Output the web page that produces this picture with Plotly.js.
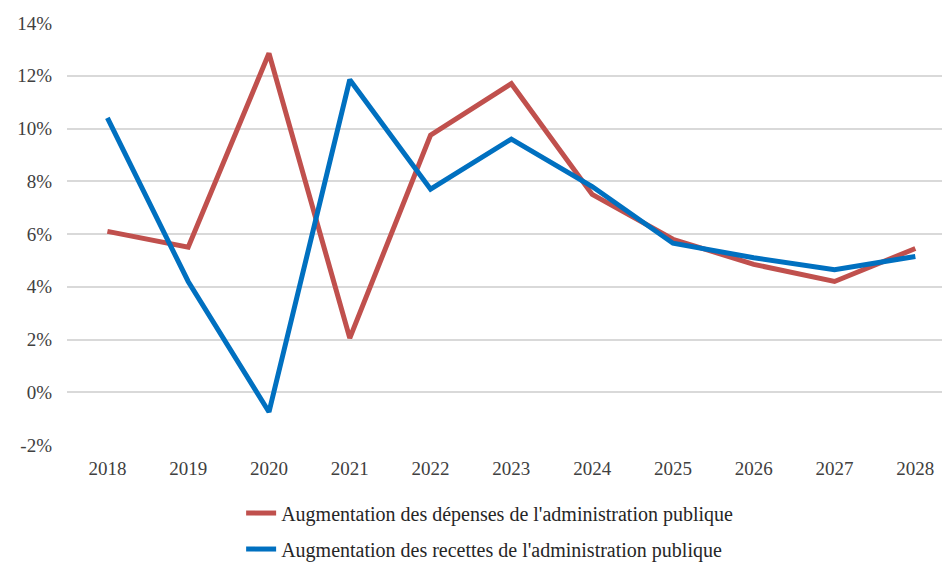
<!DOCTYPE html>
<html>
<head>
<meta charset="utf-8">
<script src="https://cdn.plot.ly/plotly-3.0.1.min.js"></script>
<style>html,body{margin:0;padding:0;background:#fff;}#chart{width:942px;height:564px;}</style>
</head>
<body>
<div id="chart"></div>
<script>
const years = ['2018','2019','2020','2021','2022','2023','2024','2025','2026','2027','2028'];
const depenses = [6.1, 5.5, 12.85, 2.05, 9.75, 11.7, 7.5, 5.8, 4.85, 4.2, 5.45];
const recettes = [10.4, 4.2, -0.75, 11.85, 7.7, 9.6, 7.8, 5.65, 5.1, 4.65, 5.15];
const yTickVals = [-2, 0, 2, 4, 6, 8, 10, 12, 14];
const yTickText = ['-2%', '0%', '2%', '4%', '6%', '8%', '10%', '12%', '14%'];
const nameDep = "Augmentation des dépenses de l'administration publique";
const nameRec = "Augmentation des recettes de l'administration publique";

const font = 'Liberation Serif, DejaVu Serif, serif';
const traces = [
  {x: years, y: depenses, name: nameDep, type: 'scatter', mode: 'lines', legendgroup: 'a',
   line: {color: '#C0504D', width: 5}},
  {x: years, y: recettes, name: nameRec, type: 'scatter', mode: 'lines', legendgroup: 'b',
   line: {color: '#0070C0', width: 5}}
];
const layout = {
  width: 942, height: 564,
  margin: {l: 67, r: 0, t: 23, b: 119, autoexpand: false},
  paper_bgcolor: '#fff', plot_bgcolor: '#fff',
  font: {family: font, color: '#404040', size: 19},
  showlegend: true,
  legend: {x: 0.199, y: -0.115,
           xanchor: 'left', yanchor: 'top', orientation: 'v',
           font: {family: font, size: 20, color: '#262626'}, tracegroupgap: 7},
  xaxis: {type: 'category', range: [-0.5, 10.33], showgrid: false,
          zeroline: false, showline: false, ticks: '', tickangle: 0, ticklabelstandoff: 10,
          tickfont: {family: font, size: 19, color: '#404040'}},
  yaxis: {range: [-2, 14], tickvals: yTickVals, ticktext: yTickText,
          showgrid: true, gridcolor: '#D9D9D9', gridwidth: 2, zeroline: false,
          showline: false, ticks: '', ticklabelstandoff: 14,
          tickfont: {family: font, size: 19, color: '#404040'}}
};
Plotly.newPlot('chart', traces, layout, {displayModeBar: false, staticPlot: true});
</script>
</body>
</html>
